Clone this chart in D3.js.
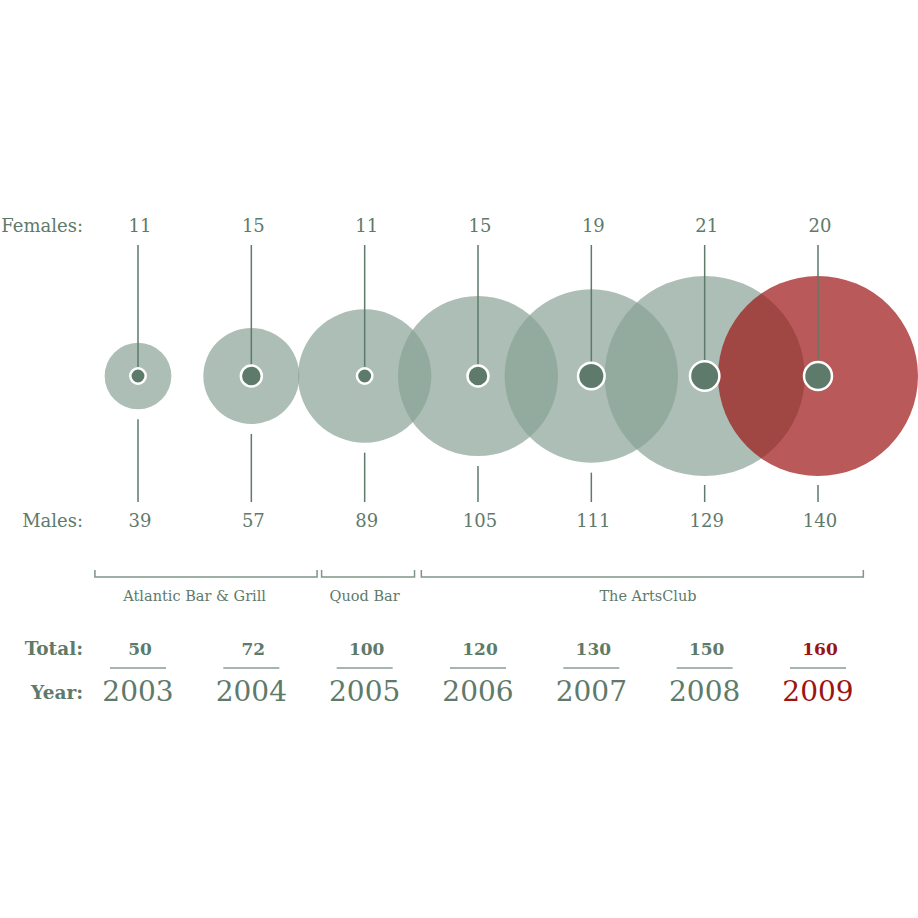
<!DOCTYPE html>
<html lang="en">
<head>
    <meta charset="UTF-8">
    <title>Staff by year</title>
    <style>
        body { margin: 0; background: #fff; }
        svg text { font-family: "DejaVu Serif", serif; fill: #5e7a6a; }
    </style>
</head>
<body>
    <svg id="chart" width="918" height="918"></svg>

    <script src="https://d3js.org/d3.v7.min.js"></script>

    <script>
// Data
const years = [2003, 2004, 2005, 2006, 2007, 2008, 2009];
const females = [11, 15, 11, 15, 19, 21, 20];
const males = [39, 57, 89, 105, 111, 129, 140];
const totals = [50, 72, 100, 120, 130, 150, 160];

// Venues and the (fractional) years they cover
const venues = ["Atlantic Bar & Grill", "Quod Bar", "The ArtsClub"];
const venueStart = [2002.62, 2004.62, 2005.5];
const venueEnd = [2004.58, 2005.44, 2009.4];
const venueFirst = [2003, 2005, 2006];
const venueLast = [2004, 2005, 2009];

const highlightYear = 2009;

const green = "#5e7a6a";
const bubbleGreen = "#89a395";
const red = "#9b1313";

const svg = d3.select("#chart");

// Scales: big circle sized by total staff (capped), dot by females
const x = d3.scaleLinear().domain([2003, 2009]).range([138, 818]);
const rBig = d3.scaleLinear().domain([0, 150]).range([0, 100]).clamp(true);
const rSmall = d3.scaleLinear().domain([0, 20]).range([0, 14]);

const cy = 376;
const rows = years.map((y, i) => ({ year: y, f: females[i], m: males[i], t: totals[i] }));
const colour = d => d.year === highlightYear ? red : green;

// Row labels
const rowLabels = [
    { text: "Females:", y: 232, bold: false },
    { text: "Males:", y: 527, bold: false },
    { text: "Total:", y: 655, bold: true },
    { text: "Year:", y: 699, bold: true }
];
svg.selectAll(".row-label")
    .data(rowLabels)
    .enter()
    .append("text")
    .attr("class", "row-label")
    .attr("x", 83)
    .attr("y", d => d.y)
    .attr("text-anchor", "end")
    .style("font-size", d => d.bold ? "18.5px" : "18px")
    .style("font-weight", d => d.bold ? "bold" : "normal")
    .text(d => d.text);

// Big circles
svg.selectAll(".big")
    .data(rows)
    .enter()
    .append("circle")
    .attr("class", "big")
    .attr("cx", d => x(d.year))
    .attr("cy", cy)
    .attr("r", d => rBig(d.t))
    .attr("fill", d => d.year === highlightYear ? red : bubbleGreen)
    .attr("fill-opacity", 0.7);

// Female lines from the label down to the centre
svg.selectAll(".f-line")
    .data(rows)
    .enter()
    .append("line")
    .attr("x1", d => x(d.year))
    .attr("x2", d => x(d.year))
    .attr("y1", 245)
    .attr("y2", cy)
    .attr("stroke", green)
    .attr("stroke-width", 1.5);

// Male lines under the circles
svg.selectAll(".m-line")
    .data(rows)
    .enter()
    .append("line")
    .attr("x1", d => x(d.year))
    .attr("x2", d => x(d.year))
    .attr("y1", d => Math.min(cy + rBig(d.t) + 10, 485))
    .attr("y2", 502)
    .attr("stroke", green)
    .attr("stroke-width", 1.5);

// Small dots (females)
svg.selectAll(".small")
    .data(rows)
    .enter()
    .append("circle")
    .attr("cx", d => x(d.year))
    .attr("cy", cy)
    .attr("r", d => rSmall(d.f))
    .attr("fill", green)
    .attr("stroke", "#fff")
    .attr("stroke-width", 2.5);

// Female and male numbers
svg.selectAll(".f-num")
    .data(rows)
    .enter()
    .append("text")
    .attr("x", d => x(d.year) + 2)
    .attr("y", 232)
    .attr("text-anchor", "middle")
    .style("font-size", "18px")
    .text(d => d.f);

svg.selectAll(".m-num")
    .data(rows)
    .enter()
    .append("text")
    .attr("x", d => x(d.year) + 2)
    .attr("y", 527)
    .attr("text-anchor", "middle")
    .style("font-size", "18px")
    .text(d => d.m);

// Venue brackets
const venueRows = venues.map((v, i) => ({
    name: v, x0: x(venueStart[i]), x1: x(venueEnd[i]),
    mid: (x(venueFirst[i]) + x(venueLast[i])) / 2
}));
svg.selectAll(".bracket")
    .data(venueRows)
    .enter()
    .append("path")
    .attr("d", d => `M${d.x0},570V577H${d.x1}V570`)
    .attr("fill", "none")
    .attr("stroke", "#7f9588")
    .attr("stroke-width", 1.5);

svg.selectAll(".venue")
    .data(venueRows)
    .enter()
    .append("text")
    .attr("x", d => d.mid)
    .attr("y", 601)
    .attr("text-anchor", "middle")
    .style("font-size", "14.5px")
    .text(d => d.name);

// Totals with underline
svg.selectAll(".total")
    .data(rows)
    .enter()
    .append("text")
    .attr("x", d => x(d.year) + 2)
    .attr("y", 655)
    .attr("text-anchor", "middle")
    .style("font-size", "17px")
    .style("font-weight", "bold")
    .style("fill", colour)
    .text(d => d.t);

svg.selectAll(".underline")
    .data(rows)
    .enter()
    .append("line")
    .attr("x1", d => x(d.year) - 28)
    .attr("x2", d => x(d.year) + 28)
    .attr("y1", 668)
    .attr("y2", 668)
    .attr("stroke", "#8a9e92")
    .attr("stroke-width", 1.5);

// Years
svg.selectAll(".year")
    .data(rows)
    .enter()
    .append("text")
    .attr("x", d => x(d.year))
    .attr("y", 701)
    .attr("text-anchor", "middle")
    .style("font-size", "28px")
    .style("fill", colour)
    .text(d => d.year);
    </script>
</body>
</html>
